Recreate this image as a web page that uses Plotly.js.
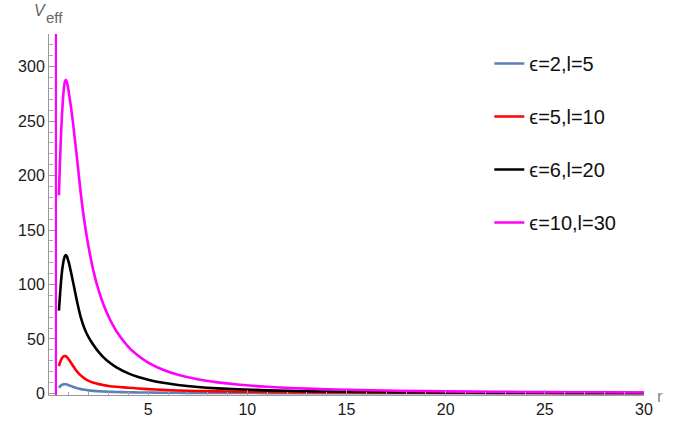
<!DOCTYPE html>
<html>
<head>
<meta charset="utf-8">
<script src="https://cdn.plot.ly/plotly-3.0.1.min.js"></script>
<style>html,body{margin:0;padding:0;background:#fff;}#chart{width:686px;height:424px;}</style>
</head>
<body>
<div id="chart"></div>
<script>
// radial coordinate r
const r = [0.5,0.55,0.6,0.65,0.7,0.75,0.8,0.85,0.9,0.95,1.0,1.1,1.2,1.3,1.43,1.6,1.8,2.0,2.25,2.5,2.75,3.0,3.4,4.0,4.5,5.0,5.75,6.5,7.5,8.5,9.5,11,13,15,17.5,20,22.5,25,27.5,30];

// V_eff series
const vBlue = [5.3,6.3,7.1,7.7,8.1,8.3,8.4,8.3,8.1,7.8,7.5,6.8,6.1,5.4,4.7,3.9,3.25,2.75,2.3,1.95,1.7,1.5,1.25,1.0,0.85,0.73,0.6,0.5,0.42,0.36,0.31,0.26,0.21,0.18,0.15,0.13,0.11,0.1,0.09,0.08];
const vRed = [25,28,30.5,32.3,33.5,34.1,34.3,34.1,33.3,32.3,31.1,28.4,25.6,22.9,19.8,16.5,13.6,11.5,9.7,8.5,7.6,6.8,6.0,5.2,4.5,3.9,3.2,2.7,2.2,1.85,1.6,1.3,1.0,0.8,0.65,0.55,0.47,0.4,0.35,0.3];
const vBlack = [76,89,101,111,118,123,126,127,126,123,120,112,103.5,94.5,83,70,59,51.5,44.2,38.1,33.1,29,23.9,18.4,15.1,12.6,9.74,7.74,5.88,4.62,3.72,2.79,2.01,1.52,1.12,0.86,0.68,0.55,0.45,0.38];
const vMagenta = [182,211,235,254,269,280,286,288,286,282,276,264,250,234,213,184,156,134,111.6,94.7,81.3,70.6,57.1,42.8,34.5,28.3,21.7,17.1,12.9,10.1,8.1,6.07,4.36,3.28,2.41,1.85,1.46,1.18,0.98,0.82];

// vertical branch of the magenta curve
const asymR = [0.35, 0.35];
const asymV = [-10, 400];

const names = ['\u03F5=2,l=5', '\u03F5=5,l=10', '\u03F5=6,l=20', '\u03F5=10,l=30'];
const colors = ['#5E81B5', '#FF0000', '#000000', '#FF00FF'];
const series = [vBlue, vRed, vBlack, vMagenta];

const traces = series.map((v, i) => ({
  x: r, y: v, type: 'scatter', mode: 'lines', name: names[i],
  legendgroup: 'g' + i,
  line: {color: colors[i], width: 2.6, shape: 'spline', smoothing: 0.8}
}));
traces.push({
  x: asymR, y: asymV, type: 'scatter', mode: 'lines', showlegend: false,
  legendgroup: 'g3', line: {color: '#FF00FF', width: 2.2}, hoverinfo: 'skip'
});

const fam = 'Liberation Sans, Arial, sans-serif';
const tickFont = {family: fam, size: 16, color: '#1a1a1a'};

const layout = {
  width: 686, height: 424,
  margin: {l: 49, r: 42, t: 34, b: 29},
  paper_bgcolor: '#fff', plot_bgcolor: '#fff',
  showlegend: true,
  legend: {
    x: 0.74, xanchor: 'left', y: 0.9725, yanchor: 'top',
    font: {family: fam, size: 20, color: '#111'},
    tracegroupgap: 24, bgcolor: 'rgba(0,0,0,0)'
  },
  xaxis: {
    range: [0, 30], showgrid: false, zeroline: false,
    showline: true, linecolor: '#999', linewidth: 1,
    tickvals: [5, 10, 15, 20, 25, 30],
    ticks: 'inside', ticklen: 5, tickcolor: '#999', tickwidth: 1,
    minor: {dtick: 1, ticks: 'inside', ticklen: 3, tickcolor: '#aaa', showgrid: false},
    tickfont: tickFont
  },
  yaxis: {
    range: [-1.5, 330], showgrid: false, zeroline: false,
    showline: true, linecolor: '#999', linewidth: 1,
    tickvals: [0, 50, 100, 150, 200, 250, 300],
    ticks: 'inside', ticklen: 6, tickcolor: '#999', tickwidth: 1,
    minor: {dtick: 10, ticks: 'inside', ticklen: 3.5, tickcolor: '#aaa', showgrid: false},
    tickfont: tickFont
  },
  annotations: [
    {text: '<i>V</i>', xref: 'paper', yref: 'paper', x: 0, y: 1, xshift: -9, yshift: 24,
     xanchor: 'center', yanchor: 'middle', showarrow: false,
     font: {family: fam, size: 16, color: '#666'}},
    {text: 'eff', xref: 'paper', yref: 'paper', x: 0, y: 1, xshift: 5.5, yshift: 17,
     xanchor: 'center', yanchor: 'middle', showarrow: false,
     font: {family: fam, size: 15, color: '#666'}},
    {text: 'r', xref: 'paper', yref: 'paper', x: 1, y: 0, xshift: 16, yshift: -1,
     xanchor: 'center', yanchor: 'middle', showarrow: false,
     font: {family: fam, size: 17, color: '#888'}}
  ]
};

Plotly.newPlot('chart', traces, layout, {displayModeBar: false, staticPlot: true});
</script>
</body>
</html>
